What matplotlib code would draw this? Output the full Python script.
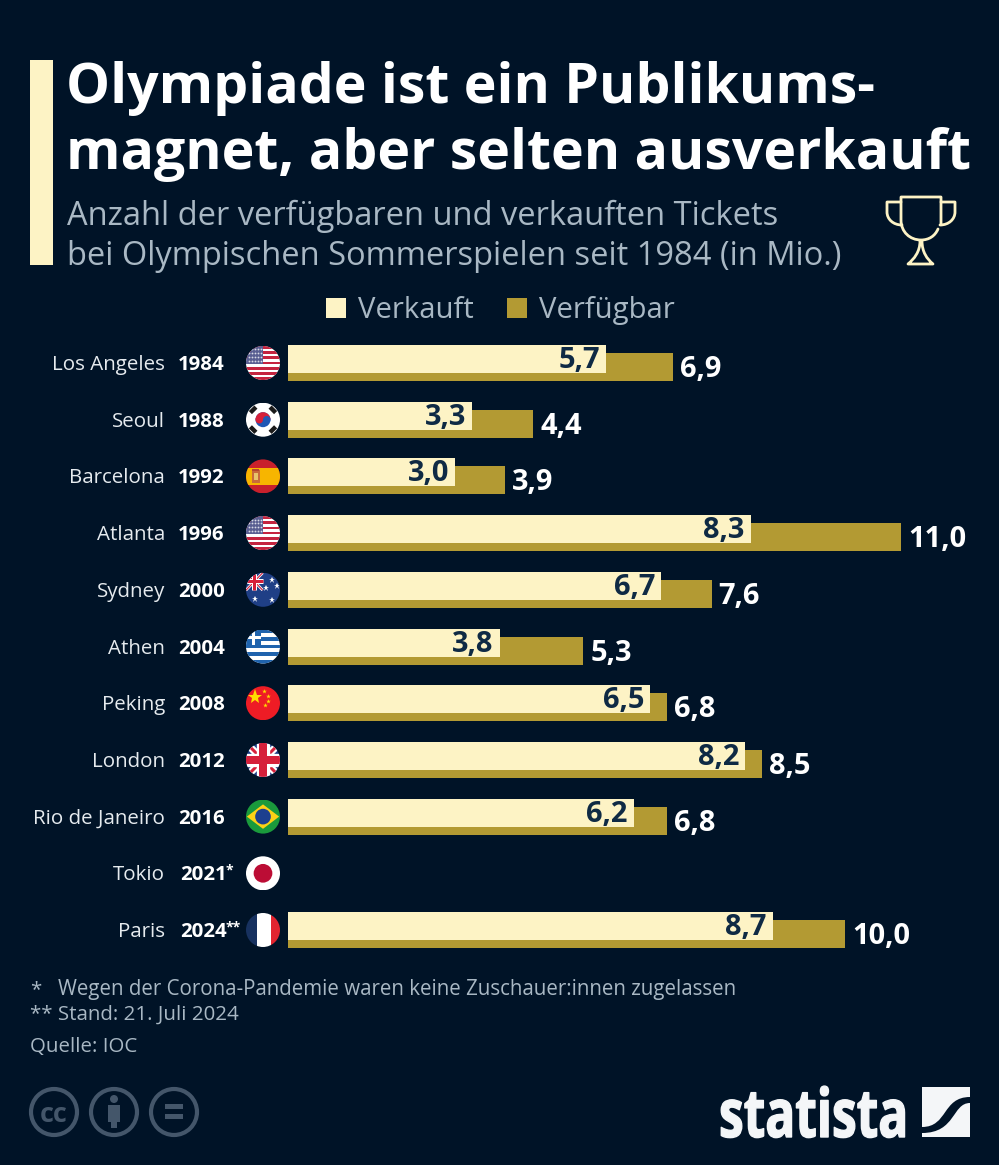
import numpy as np
import matplotlib
matplotlib.use("Agg")
import matplotlib.pyplot as plt
import matplotlib.patheffects as pe
from matplotlib.patches import Rectangle, Circle, Polygon, PathPatch
from matplotlib.path import Path
from matplotlib.transforms import Affine2D

# data
cities = ["Los Angeles", "Seoul", "Barcelona", "Atlanta", "Sydney", "Athen", "Peking",
          "London", "Rio de Janeiro", "Tokio", "Paris"]
years = ["1984", "1988", "1992", "1996", "2000", "2004", "2008", "2012", "2016", "2021", "2024"]
year_marks = ["", "", "", "", "", "", "", "", "", "*", "**"]
flags = ["us", "kr", "es", "us", "au", "gr", "cn", "gb", "br", "jp", "fr"]
sold = [5.7, 3.3, 3.0, 8.3, 6.7, 3.8, 6.5, 8.2, 6.2, np.nan, 8.7]
available = [6.9, 4.4, 3.9, 11.0, 7.6, 5.3, 6.8, 8.5, 6.8, np.nan, 10.0]

BG = "#001327"
CREAM = "#fdf3c5"
GOLD = "#b39a33"
DARK = "#0f2a44"
GREY = "#a9b8c4"
ICON = "#44566a"
FONT = "Open Sans"
W, H = 999, 1165
ROW0, ROWSTEP = 363, 56.7


def px(size):
    return size * 0.72


def comma(v):
    return f"{v:.1f}".replace(".", ",")


class Squeeze(pe.AbstractPathEffect):
    # narrows a text around a fixed x (display pixels), for the condensed logo type
    def __init__(self, sx, x0):
        super().__init__()
        self.sx = sx
        self.x0 = x0

    def draw_path(self, renderer, gc, tpath, affine, rgbFace=None):
        squeeze = Affine2D().translate(-self.x0, 0).scale(self.sx, 1).translate(self.x0, 0)
        gc.set_linewidth(1.0)
        renderer.draw_path(gc, tpath, affine + squeeze, rgbFace)


fig = plt.figure(figsize=(W / 100, H / 100), dpi=100, facecolor=BG)
plt.rcParams["font.family"] = FONT

# overlay in pixel coordinates for the furniture around the chart
bg = fig.add_axes([0, 0, 1, 1])
bg.set_xlim(0, W)
bg.set_ylim(H, 0)
bg.axis("off")


def draw_flag(code, cx, cy, r=17):
    tr = Affine2D().scale(r).translate(cx, cy) + bg.transData
    clip = Circle((0, 0), 1, transform=tr)

    def rect(x0, y0, x1, y1, c):
        p = Rectangle((x0, y0), x1 - x0, y1 - y0, fc=c, ec="none", transform=tr)
        bg.add_patch(p)
        p.set_clip_path(clip)

    def line(x, y, c, lw):
        l, = bg.plot(x, y, color=c, lw=lw, transform=tr, solid_capstyle="butt")
        l.set_clip_path(clip)

    def stars(x, y, c, ms, m="*"):
        l, = bg.plot(x, y, ls="none", marker=m, color=c, ms=ms, mew=0, transform=tr)
        l.set_clip_path(clip)

    def union(x0, y0, x1, y1, k):
        rect(x0, y0, x1, y1, "#1f3f86")
        line([x0, x1], [y0, y1], "white", 2.2 * k)
        line([x0, x1], [y1, y0], "white", 2.2 * k)
        line([x0, x1], [y0, y1], "#d6203a", 0.9 * k)
        line([x0, x1], [y1, y0], "#d6203a", 0.9 * k)
        mx, my = (x0 + x1) / 2, (y0 + y1) / 2
        line([mx, mx], [y0, y1], "white", 4 * k)
        line([x0, x1], [my, my], "white", 4 * k)
        line([mx, mx], [y0, y1], "#d6203a", 2.4 * k)
        line([x0, x1], [my, my], "#d6203a", 2.4 * k)

    if code == "us":
        rect(-1, -1, 1, 1, "white")
        for k in range(7):
            y = -1 + k * 2 * 2 / 13
            rect(-1, y, 1, y + 2 / 13, "#c5243f")
        rect(-1, -1, 0.02, 0.08, "#5a5f92")
        xs, ys = np.meshgrid(np.linspace(-0.85, -0.1, 5), np.linspace(-0.8, -0.1, 4))
        stars(xs.ravel(), ys.ravel(), "#d8d9e6", 1.3, "o")
    elif code == "kr":
        rect(-1, -1, 1, 1, "white")
        bg.add_patch(Circle((0, 0), 0.44, fc="#1f57b5", ec="none", transform=tr))
        t = np.linspace(np.pi, 2 * np.pi, 40)
        bg.fill(0.44 * np.cos(t), 0.44 * np.sin(t), color="#d6203a", lw=0, transform=tr)
        bg.add_patch(Circle((-0.22, 0), 0.22, fc="#d6203a", ec="none", transform=tr))
        bg.add_patch(Circle((0.22, 0), 0.22, fc="#1f57b5", ec="none", transform=tr))
        for sx, sy in [(-1, -1), (1, -1), (-1, 1), (1, 1)]:
            a = sx * sy * 45
            bar = Rectangle((-0.23, -0.13), 0.46, 0.26, fc="#1a1a1a", ec="none",
                            transform=Affine2D().rotate_deg(-a).translate(sx * 0.58, sy * 0.58) + tr)
            bg.add_patch(bar)
    elif code == "es":
        rect(-1, -1, 1, 1, "#c8202c")
        rect(-1, -0.5, 1, 0.5, "#f7b500")
        rect(-0.65, -0.38, -0.2, 0.38, "#c96a3a")
        rect(-0.55, -0.22, -0.3, 0.24, "#e8c56a")
        rect(-0.62, -0.46, -0.25, -0.34, "#b5472f")
    elif code == "au":
        rect(-1, -1, 1, 1, "#1f3f86")
        union(-1, -1, -0.02, 0.02, 0.9)
        stars([-0.5, 0.55, 0.2, 0.85, 0.55], [0.55, -0.6, -0.1, -0.25, 0.6], "white", 5)
    elif code == "gr":
        rect(-1, -1, 1, 1, "white")
        for k in range(5):
            y = -1 + k * 2 * 2 / 9
            rect(-1, y, 1, y + 2 / 9, "#1f63ad")
        rect(-1, -1, -0.1, -0.11, "#1f63ad")
        rect(-0.64, -1, -0.46, -0.11, "white")
        rect(-1, -0.64, -0.1, -0.46, "white")
    elif code == "cn":
        rect(-1, -1, 1, 1, "#ee1c25")
        stars([-0.45], [-0.38], "#ffde00", 11)
        stars([0.08, 0.32, 0.32, 0.1], [-0.72, -0.45, -0.12, 0.1], "#ffde00", 3.5)
    elif code == "gb":
        union(-1, -1, 1, 1, 2.4)
    elif code == "br":
        rect(-1, -1, 1, 1, "#1a9a3c")
        bg.add_patch(Polygon([(-0.95, 0), (0, -0.72), (0.95, 0), (0, 0.72)], fc="#fcd116",
                             ec="none", transform=tr))
        bg.add_patch(Circle((0, 0), 0.46, fc="#1d3f8f", ec="none", transform=tr))
    elif code == "jp":
        rect(-1, -1, 1, 1, "white")
        bg.add_patch(Circle((0, 0), 0.55, fc="#bc0d35", ec="none", transform=tr))
    elif code == "fr":
        rect(-1, -1, -0.33, 1, "#17315f")
        rect(-0.33, -1, 0.45, 1, "white")
        rect(0.45, -1, 1, 1, "#e1242f")


# title block
bg.add_patch(Rectangle((30, 60), 23, 205, fc=CREAM, ec="none"))
bg.text(66.5, 103, "Olympiade ist ein Publikums-", color="white", fontsize=px(55.4), fontweight="bold", family=FONT)
bg.text(66.5, 169, "magnet, aber selten ausverkauft", color="white", fontsize=px(55.4), fontweight="bold", family=FONT)
bg.text(67, 225, "Anzahl der verfügbaren und verkauften Tickets", color=GREY, fontsize=px(32.6), family=FONT)
bg.text(67, 265, "bei Olympischen Sommerspielen seit 1984 (in Mio.)", color=GREY, fontsize=px(32.6), family=FONT)

# trophy icon
M, L, C = Path.MOVETO, Path.LINETO, Path.CURVE4
trophy_parts = [
    Path([(941, 224), (941, 197), (901, 197), (901, 220), (901, 232), (910, 240), (921, 240), (929, 240), (935, 236), (938, 229)],
         [M, L, L, L, C, C, C, C, C, C]),
    Path([(901, 202), (887, 202), (887, 212), (887, 219), (893, 225), (902, 225)], [M, L, L, C, C, C]),
    Path([(941, 202), (955, 202), (955, 212), (955, 219), (949, 225), (940, 225)], [M, L, L, C, C, C]),
    Path([(920, 241), (920, 252), (914, 259), (908, 264), (933, 264), (927, 259), (922, 252), (922, 241)],
         [M, C, C, C, L, C, C, C]),
]
for p in trophy_parts:
    bg.add_patch(PathPatch(p, fc="none", ec=CREAM, lw=2.0, capstyle="round", joinstyle="round"))

# legend
bg.add_patch(Rectangle((326, 298), 20, 20, fc=CREAM, ec="none"))
bg.text(358, 318, "Verkauft", color=GREY, fontsize=px(29.3), family=FONT)
bg.add_patch(Rectangle((507, 298), 20, 20, fc=GOLD, ec="none"))
bg.text(539, 318, "Verfügbar", color=GREY, fontsize=px(29.3), family=FONT)

# row labels and flags
for i in range(len(cities)):
    cy = ROW0 + i * ROWSTEP
    bg.text(165, cy + 7, cities[i], ha="right", color="#e6ebef", fontsize=px(20.5), family=FONT)
    if year_marks[i]:
        bg.text(180, cy + 7, years[i], color="white", fontsize=px(20.4), fontweight="bold", family=FONT)
        bg.text(226, cy + 1, year_marks[i], color="white", fontsize=px(14), fontweight="bold", family=FONT)
    else:
        bg.text(178, cy + 7, years[i], color="white", fontsize=px(20.4), fontweight="bold", family=FONT)
    draw_flag(flags[i], 263, cy)

# bars
ax = fig.add_axes([288 / W, 1 - 958 / H, (901 - 288) / W, (958 - 335) / H])
ax.patch.set_alpha(0)
ax.axis("off")
ax.set_xlim(0, 11)
ax.set_ylim((958 - ROW0) / ROWSTEP, (335 - ROW0) / ROWSTEP)
ypos = np.arange(len(cities))
ax.barh(ypos + 4 / ROWSTEP, available, height=28 / ROWSTEP, color=GOLD)
ax.barh(ypos - 4 / ROWSTEP, sold, height=28 / ROWSTEP, color=CREAM)

for i in ypos:
    if np.isnan(sold[i]):
        continue
    ax.annotate(comma(sold[i]), (sold[i], i), xytext=(px(-6), px(-5)), textcoords="offset points",
                ha="right", va="baseline", color=DARK, fontsize=px(29), fontweight="bold", family=FONT)
    ax.annotate(comma(available[i]), (available[i], i), xytext=(px(7), px(-14)), textcoords="offset points",
                ha="left", va="baseline", color="white", fontsize=px(29), fontweight="bold", family=FONT)

# footnotes
bg.text(30, 995, "*", color=GREY, fontsize=px(20.5), family=FONT)
bg.text(58, 995, "Wegen der Corona-Pandemie waren keine Zuschauer:innen zugelassen", color=GREY, fontsize=px(20.55), family=FONT)
bg.text(30, 1020, "** Stand: 21. Juli 2024", color=GREY, fontsize=px(20.5), family=FONT)
bg.text(30, 1052, "Quelle: IOC", color=GREY, fontsize=px(20.5), family=FONT)

# licence icons
for cx in [54, 114, 174]:
    bg.add_patch(Circle((cx, 1112), 23, fc="none", ec=ICON, lw=3))
bg.text(54, 1112, "cc", color=ICON, fontsize=px(27), fontweight="bold", ha="center", va="center_baseline", family=FONT)
bg.add_patch(Circle((114, 1099), 4, fc=ICON, ec="none"))
bg.add_patch(Rectangle((108, 1105), 12, 17, fc=ICON, ec="none"))
bg.add_patch(Rectangle((111, 1120), 6, 8, fc=ICON, ec="none"))
bg.add_patch(Rectangle((165, 1104), 18, 5, fc=ICON, ec="none"))
bg.add_patch(Rectangle((165, 1114), 18, 5, fc=ICON, ec="none"))

# statista logo, type squeezed to the width of the condensed original
logo = bg.text(908, 1137, "statista", color="#f4f6f8", ha="right", fontsize=px(67), fontweight="bold", family=FONT)
logo_width = logo.get_window_extent(fig.canvas.get_renderer()).width
logo.set_path_effects([Squeeze(189 / logo_width, 908)])
bg.add_patch(Rectangle((922, 1087), 48, 50, fc="#f4f6f8", ec="none"))
swoosh = Path([(922, 1127), (948, 1127), (942, 1097), (970, 1097), (970, 1103), (952, 1103), (956, 1133), (922, 1133), (922, 1127)],
              [M, C, C, C, L, C, C, C, Path.CLOSEPOLY])
bg.add_patch(PathPatch(swoosh, fc=BG, ec="none"))

fig.savefig("out.png", dpi=100, facecolor=BG)
